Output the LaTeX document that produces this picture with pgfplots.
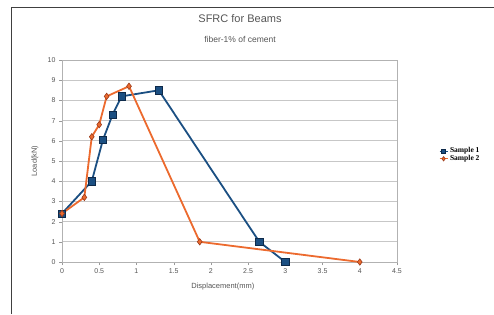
\documentclass[border=0pt]{standalone}
\usepackage{pgfplots}
\pgfplotsset{compat=1.18}
\usepackage{fontspec}
\setmainfont{Liberation Sans}
\newfontfamily\serifb{Liberation Serif}
\definecolor{sblue}{HTML}{1B4F82}
\definecolor{sblueedge}{HTML}{0E2A4A}
\definecolor{sorange}{HTML}{EC6A2E}
\definecolor{sorangeedge}{HTML}{9A3A1A}
\definecolor{txtgray}{HTML}{555555}
\begin{document}
\begin{tikzpicture}[x=1pt,y=1pt]
\path[use as bounding box] (0,0) rectangle (494,314);
\draw[black!75, line width=1pt] (11,0) -- (11,306) -- (494,306);
\node[txtgray, font=\fontsize{11}{13}\selectfont] at (240,295) {SFRC for Beams};
\node[txtgray, font=\fontsize{8.5}{10}\selectfont] at (240,275) {fiber-1\% of cement};
\begin{axis}[
  at={(62pt,52pt)}, anchor=south west,
  width=335pt, height=202pt, scale only axis,
  xmin=0, xmax=4.5, ymin=0, ymax=10,
  xtick={0,0.5,...,4.5}, ytick={0,1,...,10},
  xticklabels={0,0.5,1,1.5,2,2.5,3,3.5,4,4.5},
  tick label style={font=\fontsize{7}{8}\selectfont, text=txtgray},
  /pgf/number format/assume math mode=true,
  axis line style={black!30, line width=0.8pt},
  major tick style={black!40},
  tick align=outside, major tick length=3pt,
  xtick pos=bottom, ytick pos=left,
  ymajorgrids, grid style={black!22, line width=0.8pt},
  xlabel={Displacement(mm)}, ylabel={Load(kN)},
  label style={font=\fontsize{7.5}{8}\selectfont, text=txtgray},
  xlabel style={at={(axis description cs:0.48,0)}, anchor=north, yshift=-18pt},
  ylabel style={at={(axis description cs:0,0.5)}, anchor=south, xshift=0pt, yshift=20pt},
  legend style={at={(1.125,0.53)}, anchor=west, draw=none, fill=none,
    font=\serifb\bfseries\fontsize{7.5}{7.5}\selectfont, row sep=-3pt, inner sep=0pt},
  legend cell align=left,
  legend image code/.code={\draw[#1, line width=1pt] (0pt,0pt) -- (8pt,0pt); \path[#1, mark size=2.2pt] plot coordinates {(4pt,0pt)};},
  clip=false,
]
\addplot[sblue, line width=1.8pt, mark=square*, mark size=3.6pt,
  mark options={fill=sblue, draw=sblueedge, line width=0.6pt}]
  coordinates {(0,2.4) (0.4,4.0) (0.55,6.05) (0.68,7.3) (0.8,8.2) (1.3,8.5) (2.65,1.0) (3.0,0)};
\addlegendentry{Sample 1}
\addplot[sorange, line width=1.8pt, mark=diamond*, mark size=3.2pt,
  mark options={fill=sorange, draw=sorangeedge, line width=0.6pt}]
  coordinates {(0,2.4) (0.3,3.2) (0.4,6.2) (0.5,6.8) (0.6,8.2) (0.9,8.7) (1.85,1.0) (4.0,0)};
\addlegendentry{Sample 2}
\end{axis}
\end{tikzpicture}
\end{document}
